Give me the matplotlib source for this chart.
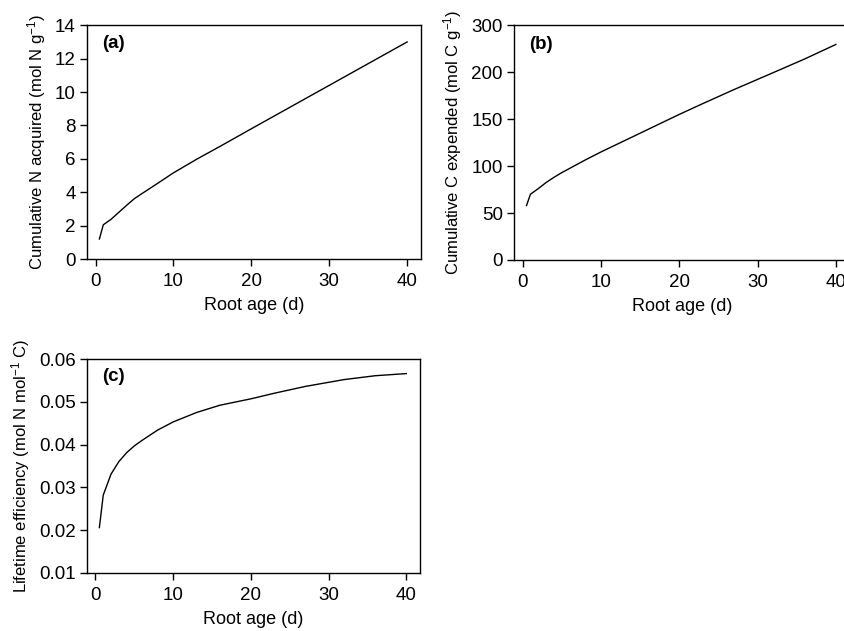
import matplotlib
matplotlib.use("Agg")
import matplotlib.pyplot as plt

plt.rcParams['font.family'] = ['Liberation Sans', 'DejaVu Sans']
plt.rcParams['font.size'] = 13
plt.rcParams['mathtext.fontset'] = 'custom'
plt.rcParams['mathtext.rm'] = 'Liberation Sans'
plt.rcParams['mathtext.default'] = 'regular'

# Root age (d)
age = [0.5, 1, 2, 3, 4, 5, 6, 8, 10, 13, 16, 20, 23, 27, 32, 36, 40]

# (a) cumulative N acquired (mol N g-1)
n_acq = [1.2, 2.05, 2.38, 2.8, 3.22, 3.62, 3.93, 4.54, 5.16, 5.98, 6.75, 7.8,
         8.58, 9.62, 10.92, 11.96, 13.0]

# (b) cumulative C expended (mol C g-1); the top tick in the original is labelled 300
c_exp = [58, 70, 76, 82.5, 88, 93, 97.5, 106.5, 115, 127, 139, 155,
         166.5, 181.5, 199.5, 214, 229.5]
b_ticks = [0, 50, 100, 150, 200, 250]
b_ticklabels = ['0', '50', '100', '150', '200', '300']

# (c) lifetime efficiency (mol N mol-1 C)
eff = [0.0206, 0.0282, 0.0331, 0.0360, 0.0381, 0.0397, 0.0410, 0.0434, 0.0453,
       0.0475, 0.0492, 0.0507, 0.0520, 0.0536, 0.0552, 0.0561, 0.0566]

fig = plt.figure(figsize=(8.44, 6.31), dpi=100)
ax_a = fig.add_axes([0.103, 0.5895, 0.396, 0.3705])
ax_b = fig.add_axes([0.609, 0.588, 0.398, 0.372])
ax_c = fig.add_axes([0.103, 0.092, 0.395, 0.339])


def style(ax, label):
    ax.set_xlim(-1.1, 41.8)
    ax.set_xticks([0, 10, 20, 30, 40])
    ax.tick_params(direction='out', length=5, width=1, top=False, right=False,
                   labelsize=13.5)
    ax.tick_params(axis='x', pad=5)
    ax.tick_params(axis='y', pad=3)
    for s in ax.spines.values():
        s.set_linewidth(1)
    ax.set_xlabel('Root age (d)', labelpad=5)
    ax.text(0.045, 0.92, label, transform=ax.transAxes, fontweight='bold',
            fontsize=13.5, va='center', ha='left')


ax_a.plot(age, n_acq, color='black', lw=1)
ax_a.set_ylim(0, 14)
ax_a.set_yticks(range(0, 15, 2))
ax_a.set_ylabel('Cumulative N acquired (mol N g$^{-1}$)', fontsize=12, labelpad=5)
style(ax_a, '(a)')

ax_b.plot(age, c_exp, color='black', lw=1)
ax_b.set_ylim(0, 250)
ax_b.set_yticks(b_ticks)
ax_b.set_yticklabels(b_ticklabels)
ax_b.set_ylabel('Cumulative C expended (mol C g$^{-1}$)', fontsize=12, labelpad=5)
style(ax_b, '(b)')

ax_c.plot(age, eff, color='black', lw=1)
ax_c.set_ylim(0.01, 0.06)
ax_c.set_yticks([0.01, 0.02, 0.03, 0.04, 0.05, 0.06])
ax_c.set_yticklabels(['0.01', '0.02', '0.03', '0.04', '0.05', '0.06'])
ax_c.set_ylabel('Lifetime efficiency (mol N mol$^{-1}$ C)', fontsize=12, labelpad=5)
style(ax_c, '(c)')

fig.savefig('out.png', dpi=100)
